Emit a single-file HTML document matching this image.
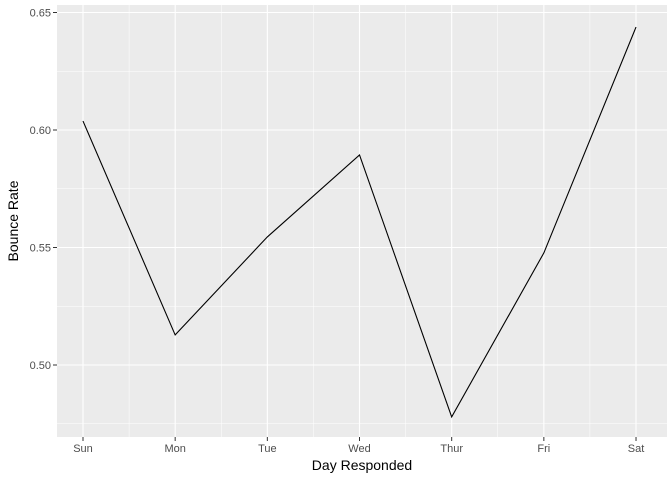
<!DOCTYPE html>
<html><head><meta charset="utf-8"><style>
body{margin:0;background:#fff;}
svg{display:block;font-family:"Liberation Sans",sans-serif;}
</style></head><body>
<svg id="chart" width="672" height="480">
<rect x="57" y="5" width="610" height="432" fill="#ebebeb"/>
<g id="grid"></g><g id="ticks"></g>
<path id="line" fill="none" stroke="#000" stroke-width="1.1"/>
<text x="362" y="470" font-size="14" text-anchor="middle">Day Responded</text>
<text transform="translate(18,221) rotate(-90)" font-size="14" text-anchor="middle">Bounce Rate</text>
</svg>
<script>
const categories=["Sun","Mon","Tue","Wed","Thur","Fri","Sat"];
const values=[0.6038,0.5128,0.5545,0.5894,0.4779,0.5477,0.6438];
const yTicks=[0.50,0.55,0.60,0.65];
const yTickLabels=["0.50","0.55","0.60","0.65"];
const NS="http://www.w3.org/2000/svg";
const x=i=>83+i*92.17;
const y=v=>130-(v-0.60)/0.05*117.5;
const grid=document.getElementById('grid'),ticks=document.getElementById('ticks');
function mk(p,t,a){const e=document.createElementNS(NS,t);for(const k in a)e.setAttribute(k,a[k]);p.appendChild(e);return e;}
for(let i=0;i<yTicks.length;i++){
 if(i<yTicks.length-1){const m=mk(grid,'line',{x1:57,x2:667,y1:y(yTicks[i]+0.025),y2:y(yTicks[i]+0.025),stroke:'#fff','stroke-width':0.5});
 }
 const g=mk(grid,'line',{x1:57,x2:667,y1:y(yTicks[i]),y2:y(yTicks[i]),stroke:'#fff','stroke-width':1.1});
 
 mk(ticks,'line',{x1:53,x2:57,y1:y(yTicks[i]),y2:y(yTicks[i]),stroke:'#333'});
 const t=mk(ticks,'text',{x:51,y:y(yTicks[i])+4,'font-size':11,'text-anchor':'end',fill:'#4d4d4d'});
 t.textContent=yTickLabels[i];
 
}
// minor below 0.50
{const m=mk(grid,'line',{x1:57,x2:667,y1:y(0.475),y2:y(0.475),stroke:'#fff','stroke-width':0.5});
}
categories.forEach((c,i)=>{
 const g=mk(grid,'line',{x1:x(i),x2:x(i),y1:5,y2:437,stroke:'#fff','stroke-width':1.1});
 
 if(i<categories.length-1){const m=mk(grid,'line',{x1:x(i+0.5),x2:x(i+0.5),y1:5,y2:437,stroke:'#fff','stroke-width':0.5});
 }
 mk(ticks,'line',{x1:x(i),x2:x(i),y1:437,y2:441,stroke:'#333'});
 const t=mk(ticks,'text',{x:x(i),y:452,'font-size':11,'text-anchor':'middle',fill:'#4d4d4d'});
 t.textContent=c;
 
});
document.getElementById('line').setAttribute('d',values.map((v,i)=>(i?'L':'M')+x(i)+','+y(v)).join(''));
</script>
</body></html>
